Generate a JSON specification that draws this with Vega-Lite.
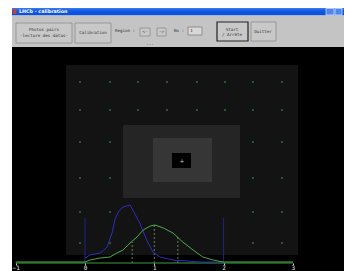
{
  "$schema": "https://vega.github.io/schema/vega-lite/v6.json",
  "width": 344,
  "height": 271,
  "padding": 0,
  "autosize": {"type": "none"},
  "background": "white",
  "config": {"view": {"stroke": null}, "font": "DejaVu Sans"},
  "datasets": {
    "panels": [
      {"part": "black", "x": 12, "x2": 344, "y": 47, "y2": 271},
      {"part": "title", "x": 12, "x2": 344, "y": 8, "y2": 15.5},
      {"part": "toolbar", "x": 12, "x2": 344, "y": 15.5, "y2": 47},
      {"part": "grid", "x": 66, "x2": 298, "y": 65, "y2": 255},
      {"part": "mid", "x": 123, "x2": 240, "y": 125, "y2": 198},
      {"part": "inner", "x": 153, "x2": 212, "y": 138, "y2": 182},
      {"part": "hole", "x": 172, "x2": 191, "y": 153, "y2": 168}
    ],
    "buttons": [
      {"kind": "raised", "x": 16, "x2": 72, "y": 23, "y2": 43},
      {"kind": "raised", "x": 75, "x2": 111, "y": 23, "y2": 43},
      {"kind": "raised", "x": 140, "x2": 150, "y": 28, "y2": 36},
      {"kind": "raised", "x": 157, "x2": 166, "y": 28, "y2": 36},
      {"kind": "default", "x": 217, "x2": 248, "y": 22, "y2": 41},
      {"kind": "raised", "x": 251, "x2": 276, "y": 22, "y2": 41},
      {"kind": "input", "x": 188, "x2": 202, "y": 27, "y2": 35},
      {"kind": "win", "x": 326, "x2": 334, "y": 8.5, "y2": 15},
      {"kind": "win", "x": 335, "x2": 342, "y": 8.5, "y2": 15},
      {"kind": "icon", "x": 13, "x2": 16.5, "y": 9, "y2": 14}
    ],
    "labels": [
      {"label": "Photos pairs", "x": 44, "y": 30},
      {"label": "-lecture des datas-", "x": 44, "y": 35.5},
      {"label": "Calibration", "x": 93, "y": 33},
      {"label": "Region :", "x": 125, "y": 30.5},
      {"label": "<-", "x": 145, "y": 32},
      {"label": "->", "x": 161.5, "y": 32},
      {"label": "...", "x": 150, "y": 43.5},
      {"label": "No :", "x": 179, "y": 31},
      {"label": "1", "x": 191.5, "y": 31},
      {"label": "Start", "x": 232, "y": 29.5},
      {"label": "/ Arrête", "x": 232, "y": 35},
      {"label": "Quitter", "x": 263, "y": 31.5}
    ],
    "titletext": [{"label": "LHCb - calibration", "x": 19, "y": 11.8}],
    "cross": [{"label": "+", "x": 182, "y": 160.5}],
    "markers": [
      {"x": 80, "y": 82}, {"x": 110, "y": 82}, {"x": 138, "y": 82}, {"x": 167, "y": 82},
      {"x": 197, "y": 82}, {"x": 225, "y": 82}, {"x": 253, "y": 82}, {"x": 282, "y": 82},
      {"x": 80, "y": 110}, {"x": 110, "y": 110}, {"x": 138, "y": 110}, {"x": 167, "y": 110},
      {"x": 197, "y": 110}, {"x": 225, "y": 110}, {"x": 253, "y": 110}, {"x": 282, "y": 110},
      {"x": 80, "y": 142}, {"x": 110, "y": 142}, {"x": 253, "y": 142}, {"x": 282, "y": 142},
      {"x": 80, "y": 178}, {"x": 110, "y": 178}, {"x": 253, "y": 178}, {"x": 282, "y": 178},
      {"x": 80, "y": 212}, {"x": 110, "y": 212}, {"x": 253, "y": 212}, {"x": 282, "y": 212},
      {"x": 80, "y": 243}, {"x": 110, "y": 243}, {"x": 253, "y": 243}, {"x": 282, "y": 243}
    ],
    "curves": [
      {"series": "blue", "u": 0, "h": 5},
      {"series": "blue", "u": 0.07, "h": 8},
      {"series": "blue", "u": 0.22, "h": 10},
      {"series": "blue", "u": 0.32, "h": 16},
      {"series": "blue", "u": 0.39, "h": 30},
      {"series": "blue", "u": 0.43, "h": 43},
      {"series": "blue", "u": 0.48, "h": 51},
      {"series": "blue", "u": 0.55, "h": 56},
      {"series": "blue", "u": 0.65, "h": 58},
      {"series": "blue", "u": 0.69, "h": 53},
      {"series": "blue", "u": 0.79, "h": 40},
      {"series": "blue", "u": 0.89, "h": 23},
      {"series": "blue", "u": 0.98, "h": 11},
      {"series": "blue", "u": 1.08, "h": 6},
      {"series": "blue", "u": 1.27, "h": 3},
      {"series": "blue", "u": 1.66, "h": 1},
      {"series": "blue", "u": 1.99, "h": 1},
      {"series": "green", "u": -1, "h": 1},
      {"series": "green", "u": 0, "h": 1},
      {"series": "green", "u": 0.07, "h": 3},
      {"series": "green", "u": 0.22, "h": 5},
      {"series": "green", "u": 0.36, "h": 6},
      {"series": "green", "u": 0.46, "h": 10},
      {"series": "green", "u": 0.55, "h": 13},
      {"series": "green", "u": 0.65, "h": 20},
      {"series": "green", "u": 0.75, "h": 26},
      {"series": "green", "u": 0.84, "h": 33},
      {"series": "green", "u": 0.94, "h": 37},
      {"series": "green", "u": 1.01, "h": 38},
      {"series": "green", "u": 1.13, "h": 35},
      {"series": "green", "u": 1.27, "h": 30},
      {"series": "green", "u": 1.41, "h": 21},
      {"series": "green", "u": 1.56, "h": 13},
      {"series": "green", "u": 1.7, "h": 6},
      {"series": "green", "u": 1.85, "h": 3},
      {"series": "green", "u": 1.99, "h": 1},
      {"series": "green", "u": 3, "h": 1}
    ],
    "drops": [
      {"u": 0.68, "h": 21},
      {"u": 1.0, "h": 38},
      {"u": 1.34, "h": 26}
    ],
    "limits": [
      {"u": 0, "h": 45},
      {"u": 2, "h": 45}
    ],
    "baseline": [{"u": -1, "u2": 3, "h": 0}]
  },
  "layer": [
    {
      "encoding": {
        "x": {"field": "x", "type": "quantitative", "scale": {"domain": [0, 344], "nice": false, "zero": false}, "axis": null},
        "y": {"field": "y", "type": "quantitative", "scale": {"domain": [0, 271], "reverse": true, "nice": false, "zero": false}, "axis": null}
      },
      "layer": [
        {"data": {"name": "panels"}, "transform": [{"filter": "datum.part == 'black'"}],
         "mark": {"type": "rect", "color": "#000000"},
         "encoding": {"x2": {"field": "x2"}, "y2": {"field": "y2"}}},
        {"data": {"name": "panels"}, "transform": [{"filter": "datum.part == 'title'"}],
         "mark": {"type": "rect", "color": {"gradient": "linear", "x1": 0, "y1": 0, "x2": 0, "y2": 1, "stops": [{"offset": 0, "color": "#3d7cf0"}, {"offset": 0.4, "color": "#0f58e4"}, {"offset": 1, "color": "#0a4fd6"}]}},
         "encoding": {"x2": {"field": "x2"}, "y2": {"field": "y2"}}},
        {"data": {"name": "panels"}, "transform": [{"filter": "datum.part == 'toolbar'"}],
         "mark": {"type": "rect", "color": "#c4c4c4"},
         "encoding": {"x2": {"field": "x2"}, "y2": {"field": "y2"}}},
        {"data": {"name": "panels"}, "transform": [{"filter": "datum.part == 'grid'"}],
         "mark": {"type": "rect", "color": "#131313"},
         "encoding": {"x2": {"field": "x2"}, "y2": {"field": "y2"}}},
        {"data": {"name": "panels"}, "transform": [{"filter": "datum.part == 'mid'"}],
         "mark": {"type": "rect", "color": "#252525"},
         "encoding": {"x2": {"field": "x2"}, "y2": {"field": "y2"}}},
        {"data": {"name": "panels"}, "transform": [{"filter": "datum.part == 'inner'"}],
         "mark": {"type": "rect", "color": "#363636"},
         "encoding": {"x2": {"field": "x2"}, "y2": {"field": "y2"}}},
        {"data": {"name": "panels"}, "transform": [{"filter": "datum.part == 'hole'"}],
         "mark": {"type": "rect", "color": "#000000"},
         "encoding": {"x2": {"field": "x2"}, "y2": {"field": "y2"}}},
        {"data": {"name": "markers"},
         "mark": {"type": "square", "color": "#3a7f3a", "size": 3, "opacity": 1, "filled": true}},
        {"data": {"name": "cross"},
         "mark": {"type": "text", "color": "#cccccc", "fontSize": 6, "baseline": "middle", "align": "center"},
         "encoding": {"text": {"field": "label"}}},
        {"data": {"name": "buttons"}, "transform": [{"filter": "datum.kind == 'raised'"}],
         "mark": {"type": "rect", "color": "#c8c8c8", "stroke": "#8e8e8e", "strokeWidth": 0.8},
         "encoding": {"x2": {"field": "x2"}, "y2": {"field": "y2"}}},
        {"data": {"name": "buttons"}, "transform": [{"filter": "datum.kind == 'default'"}],
         "mark": {"type": "rect", "color": "#c8c8c8", "stroke": "#222222", "strokeWidth": 1.2},
         "encoding": {"x2": {"field": "x2"}, "y2": {"field": "y2"}}},
        {"data": {"name": "buttons"}, "transform": [{"filter": "datum.kind == 'input'"}],
         "mark": {"type": "rect", "color": "#d8d8d8", "stroke": "#808080", "strokeWidth": 0.8},
         "encoding": {"x2": {"field": "x2"}, "y2": {"field": "y2"}}},
        {"data": {"name": "buttons"}, "transform": [{"filter": "datum.kind == 'win'"}],
         "mark": {"type": "rect", "color": "#4f86ee", "stroke": "#dfe9fb", "strokeWidth": 0.7},
         "encoding": {"x2": {"field": "x2"}, "y2": {"field": "y2"}}},
        {"data": {"name": "buttons"}, "transform": [{"filter": "datum.kind == 'icon'"}],
         "mark": {"type": "rect", "color": "#d23a2a"},
         "encoding": {"x2": {"field": "x2"}, "y2": {"field": "y2"}}},
        {"data": {"name": "labels"},
         "mark": {"type": "text", "font": "DejaVu Sans Mono", "fontSize": 4.2, "color": "#333333", "align": "center", "baseline": "middle"},
         "encoding": {"text": {"field": "label"}}},
        {"data": {"name": "titletext"},
         "mark": {"type": "text", "font": "DejaVu Sans", "fontWeight": "bold", "fontSize": 4.8, "color": "#ffffff", "align": "left", "baseline": "middle"},
         "encoding": {"text": {"field": "label"}}}
      ]
    },
    {
      "encoding": {
        "x": {"field": "u", "type": "quantitative",
              "scale": {"domain": [-1.2266, 3.7374], "nice": false, "zero": false},
              "axis": {"values": [-1, 0, 1, 2, 3], "offset": -8, "domain": false, "grid": false, "title": null, "zindex": 2,
                       "tickColor": "#cccccc", "tickSize": 2, "labelColor": "#e8e8e8", "labelFontSize": 6,
                       "labelFont": "DejaVu Sans Mono", "labelPadding": -1, "labelDx": 1.5, "labelFlush": false}},
        "y": {"field": "h", "type": "quantitative", "scale": {"domain": [-8, 263], "nice": false, "zero": false}, "axis": null}
      },
      "layer": [
        {"data": {"name": "limits"},
         "mark": {"type": "rule", "color": "#22228a", "strokeWidth": 1},
         "encoding": {"y": {"datum": 0}, "y2": {"field": "h"}}},
        {"data": {"name": "drops"},
         "mark": {"type": "rule", "color": "#7aa07a", "strokeWidth": 0.8, "strokeDash": [2, 2]},
         "encoding": {"y": {"datum": 0}, "y2": {"field": "h"}}},
        {"data": {"name": "baseline"},
         "mark": {"type": "rule", "color": "#3e9a3e", "strokeWidth": 1},
         "encoding": {"x2": {"field": "u2"}}},
        {"data": {"name": "curves"},
         "mark": {"type": "line", "strokeWidth": 1},
         "encoding": {"color": {"field": "series", "type": "nominal", "scale": {"domain": ["blue", "green"], "range": ["#2d2dc0", "#48ac48"]}, "legend": null}}}
      ]
    }
  ],
  "resolve": {"scale": {"x": "independent", "y": "independent"}}
}
